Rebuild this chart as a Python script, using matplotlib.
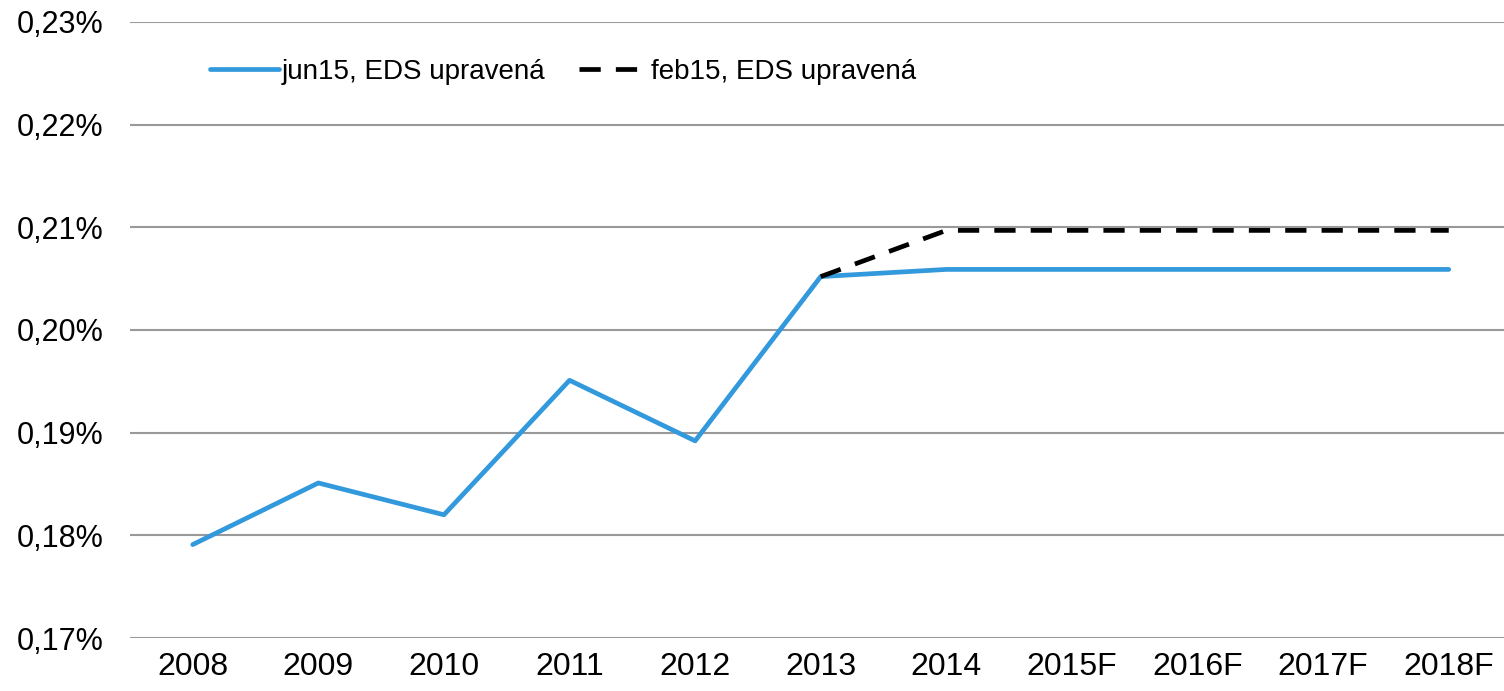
import matplotlib
matplotlib.use("Agg")
import matplotlib.pyplot as plt
from matplotlib.ticker import FuncFormatter

years = ["2008", "2009", "2010", "2011", "2012", "2013", "2014",
         "2015F", "2016F", "2017F", "2018F"]
jun15 = [0.1791, 0.1851, 0.1820, 0.1951, 0.1892, 0.2052, 0.2059,
         0.2059, 0.2059, 0.2059, 0.2059]
feb15 = [None, None, None, None, None, 0.2052, 0.2097,
         0.2097, 0.2097, 0.2097, 0.2097]

plt.rcParams["font.family"] = ["Liberation Sans", "DejaVu Sans"]

fig = plt.figure(figsize=(15.04, 6.91), dpi=100)
ax = fig.add_axes([0.0864, 0.0767, 0.9136, 0.8915])

x = list(range(len(years)))
ax.plot(x, jun15, color="#3399dd", lw=3.4, label="jun15, EDS upravená",
        solid_capstyle="round", zorder=3)
fx = [i for i, v in zip(x, feb15) if v is not None]
fy = [v for v in feb15 if v is not None]
ax.plot(fx, fy, color="black", lw=3.4, ls=(0, (4.5, 3.2)),
        label="feb15, EDS upravená", zorder=4)

ax.set_ylim(0.17, 0.23)
ax.set_yticks([0.17, 0.18, 0.19, 0.20, 0.21, 0.22, 0.23])
ax.yaxis.set_major_formatter(FuncFormatter(lambda v, p: f"{v:.2f}%".replace(".", ",")))
ax.set_xlim(-0.5, len(years) - 0.56)
ax.set_xticks(x)
ax.set_xticklabels(years)
ax.grid(axis="y", color="#999999", lw=1.5)
ax.set_axisbelow(True)
for s in ax.spines.values():
    s.set_visible(False)
ax.tick_params(axis="x", length=0, labelsize=23, pad=10)
ax.tick_params(axis="y", length=0, labelsize=22, pad=19)

leg = ax.legend(loc="center left", bbox_to_anchor=(0.058, 0.919), ncol=2, frameon=False,
                prop={"size": 20}, borderpad=0, borderaxespad=0,
                handlelength=2.5, handletextpad=0.1, columnspacing=1.2)

fig.savefig("out.png", dpi=100)
